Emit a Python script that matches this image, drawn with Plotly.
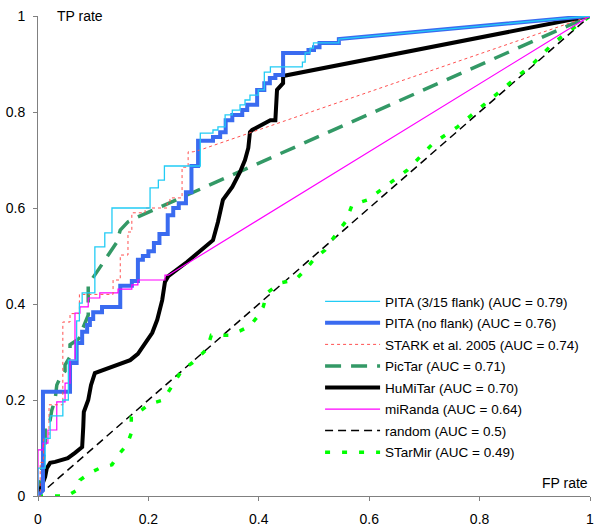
import plotly.graph_objects as go

# ---------------- data ----------------
pita_flank_fpr = [0, 0, 0.013, 0.013, 0.022, 0.022, 0.045, 0.045, 0.055, 0.055, 0.07, 0.07, 0.075, 0.075,
                  0.08, 0.08, 0.103, 0.103, 0.121, 0.121, 0.134, 0.134, 0.203, 0.203, 0.218, 0.218, 0.229, 0.229,
                  0.294, 0.294, 0.317, 0.317, 0.326, 0.326, 0.339, 0.339, 0.352, 0.352, 0.366, 0.366, 0.375, 0.375,
                  0.384, 0.384, 0.399, 0.399, 0.41, 0.41, 0.421, 0.421, 0.479, 0.479, 0.484, 0.484, 0.493, 0.493,
                  0.499, 0.499, 0.545, 0.545, 1]
pita_flank_tpr = [0, 0.058, 0.058, 0.12, 0.12, 0.167, 0.167, 0.2, 0.2, 0.283, 0.283, 0.365, 0.365, 0.402,
                  0.402, 0.423, 0.423, 0.519, 0.519, 0.548, 0.548, 0.6, 0.6, 0.642, 0.642, 0.658, 0.658, 0.6875,
                  0.6875, 0.756, 0.756, 0.7625, 0.7625, 0.769, 0.769, 0.794, 0.794, 0.804, 0.804, 0.815, 0.815, 0.825,
                  0.825, 0.835, 0.835, 0.846, 0.846, 0.883, 0.883, 0.894, 0.894, 0.904, 0.904, 0.923, 0.923, 0.933,
                  0.933, 0.944, 0.944, 0.952, 1]

pita_noflank_fpr = [0, 0.009, 0.009, 0.058, 0.058, 0.07, 0.07, 0.08, 0.08, 0.089, 0.089, 0.094, 0.094, 0.1, 0.1,
                    0.116, 0.116, 0.149, 0.149, 0.17, 0.17, 0.181, 0.181, 0.19, 0.19, 0.2, 0.2, 0.21, 0.21, 0.22,
                    0.22, 0.235, 0.235, 0.245, 0.245, 0.255, 0.255, 0.268, 0.268, 0.278, 0.278, 0.29, 0.29, 0.317,
                    0.317, 0.33, 0.33, 0.34, 0.34, 0.352, 0.352, 0.37, 0.37, 0.379, 0.379, 0.397, 0.397, 0.41, 0.41,
                    0.42, 0.42, 0.43, 0.43, 0.444, 0.444, 0.49, 0.49, 0.5, 0.5, 0.51, 0.51, 0.545, 0.545, 1]
pita_noflank_tpr = [0, 0.012, 0.217, 0.217, 0.277, 0.277, 0.319, 0.319, 0.342, 0.342, 0.356, 0.356, 0.369, 0.369,
                    0.383, 0.383, 0.394, 0.394, 0.438, 0.438, 0.448, 0.448, 0.492, 0.492, 0.5, 0.5, 0.51, 0.51,
                    0.527, 0.527, 0.546, 0.546, 0.585, 0.585, 0.6, 0.6, 0.61, 0.61, 0.633, 0.633, 0.6875, 0.6875,
                    0.74, 0.74, 0.748, 0.748, 0.758, 0.758, 0.783, 0.783, 0.794, 0.794, 0.804, 0.804, 0.815, 0.815,
                    0.846, 0.846, 0.86, 0.86, 0.871, 0.871, 0.877, 0.877, 0.923, 0.923, 0.929, 0.929, 0.935, 0.935,
                    0.944, 0.944, 0.952, 1]

stark_fpr = [0, 0.004, 0.004, 0.01, 0.01, 0.02, 0.02, 0.045, 0.045, 0.058, 0.058, 0.075, 0.075, 0.136, 0.136,
             0.149, 0.149, 0.163, 0.163, 0.17, 0.17, 0.194, 0.194, 0.234, 0.234, 0.239, 0.239, 0.261, 0.261,
             0.272, 0.272, 0.281, 0.294, 1]
stark_tpr = [0, 0, 0.07, 0.07, 0.12, 0.12, 0.19, 0.19, 0.3625, 0.3625, 0.38, 0.38, 0.42, 0.42, 0.45,
             0.45, 0.502, 0.502, 0.55, 0.55, 0.59, 0.59, 0.6, 0.6, 0.61, 0.61, 0.621, 0.621, 0.685,
             0.685, 0.717, 0.717, 0.721, 1]

pictar_fpr = [0, 0.007, 0.013, 0.013, 0.022, 0.025, 0.031, 0.034, 0.04, 0.049, 0.049, 0.058, 0.058, 0.071,
              0.076, 0.08, 0.091, 0.091, 0.103, 0.112, 0.125, 0.134, 0.143, 0.149, 0.163, 0.18, 1]
pictar_tpr = [0, 0.054, 0.102, 0.152, 0.158, 0.179, 0.2, 0.231, 0.246, 0.26, 0.273, 0.29, 0.315, 0.325,
              0.33, 0.346, 0.377, 0.44, 0.46, 0.475, 0.496, 0.5125, 0.529, 0.554, 0.571, 0.581, 1]

humitar_fpr = [0, 0.004, 0.007, 0.013, 0.016, 0.022, 0.031, 0.054, 0.067, 0.08, 0.082, 0.083, 0.091, 0.096,
               0.103, 0.112, 0.136, 0.167, 0.181, 0.194, 0.207, 0.216, 0.225, 0.23, 0.236, 0.27, 0.317, 0.326,
               0.335, 0.352, 0.366, 0.375, 0.381, 0.384, 0.388, 0.421, 0.43, 0.433, 0.444, 0.444, 1]
humitar_tpr = [0, 0.0125, 0.027, 0.04, 0.058, 0.069, 0.071, 0.079, 0.09, 0.102, 0.144, 0.175, 0.2, 0.231,
               0.256, 0.26, 0.271, 0.283, 0.296, 0.319, 0.34, 0.367, 0.408, 0.446, 0.458, 0.4875, 0.533, 0.571,
               0.617, 0.644, 0.675, 0.7, 0.725, 0.758, 0.7625, 0.783, 0.783, 0.846, 0.86, 0.875, 1]

miranda_fpr = [0, 0, 0.009, 0.009, 0.018, 0.018, 0.034, 0.034, 0.049, 0.049, 0.058, 0.058, 0.067, 0.067,
               0.076, 0.076, 0.091, 0.091, 0.112, 0.112, 0.145, 0.145, 0.17, 0.17, 0.181, 0.181, 0.23, 0.23,
               0.236, 1]
miranda_tpr = [0, 0.096, 0.096, 0.11, 0.11, 0.1375, 0.1375, 0.196, 0.196, 0.235, 0.235, 0.283, 0.283, 0.381,
               0.381, 0.394, 0.394, 0.4125, 0.4125, 0.423, 0.423, 0.431, 0.431, 0.44, 0.44, 0.45, 0.45, 0.46,
               0.46, 1]

random_fpr = [0, 1]
random_tpr = [0, 1]

starmir_fpr = [0, 0.053, 0.058, 0.071, 0.076, 0.094, 0.112, 0.134, 0.145, 0.161, 0.169, 0.169, 0.185, 0.203,
               0.227, 0.239, 0.25, 0.261, 0.279, 0.294, 0.306, 0.314, 0.345, 0.366, 0.384, 0.397, 0.408, 0.415,
               0.439, 0.466, 0.484, 0.502, 0.52, 0.539, 0.557, 0.569, 0.597, 0.669, 0.716, 0.76, 0.807, 0.85,
               0.898, 0.934, 0.983, 1]
starmir_tpr = [0, 0, 0.004, 0.0125, 0.033, 0.048, 0.058, 0.065, 0.085, 0.106, 0.131, 0.165, 0.177, 0.192,
               0.2, 0.221, 0.24, 0.2625, 0.277, 0.292, 0.306, 0.335, 0.335, 0.344, 0.354, 0.373, 0.394, 0.423,
               0.444, 0.45, 0.471, 0.496, 0.5125, 0.544, 0.571, 0.606, 0.617, 0.679, 0.735, 0.769, 0.815, 0.856,
               0.902, 0.944, 0.985, 1]

tick_vals = [0, 0.2, 0.4, 0.6, 0.8, 1]
tick_text = ["0", "0.2", "0.4", "0.6", "0.8", "1"]

series = [
    # (name, x, y, color, width, dash, legend rank)
    ("random (AUC = 0.5)", random_fpr, random_tpr, "#000000", 1.5, "8px,5px", 7),
    ("STarMir (AUC = 0.49)", starmir_fpr, starmir_tpr, "#00FF00", 3.5, "5px,12px", 8),
    ("PicTar (AUC = 0.71)", pictar_fpr, pictar_tpr, "#339966", 3.5, "16px,10px", 4),
    ("HuMiTar (AUC = 0.70)", humitar_fpr, humitar_tpr, "#000000", 4, "solid", 5),
    ("PITA (no flank) (AUC = 0.76)", pita_noflank_fpr, pita_noflank_tpr, "#3A6BF0", 4, "solid", 2),
    ("miRanda (AUC = 0.64)", miranda_fpr, miranda_tpr, "#FF00FF", 1.2, "solid", 6),
    ("STARK et al. 2005 (AUC = 0.74)", stark_fpr, stark_tpr, "#FF5050", 1, "dot", 3),
    ("PITA (3/15 flank) (AUC = 0.79)", pita_flank_fpr, pita_flank_tpr, "#22CCF5", 1.3, "solid", 1),
]

FONT = "Liberation Sans, Arial, sans-serif"
FS = 14

fig = go.Figure()
for name, xs, ys, color, width, dash, rank in series:
    if len(xs) != len(ys):
        raise ValueError(name)
    fig.add_trace(go.Scatter(
        x=xs, y=ys, mode="lines", name=name, legendrank=rank, legendgroup=name,
        line=dict(color=color, width=width, dash=dash),
        hoverinfo="skip",
    ))

axis_common = dict(
    range=[0, 1], tickvals=tick_vals, ticktext=tick_text,
    showgrid=False, zeroline=False, showline=True,
    linecolor="#808080", linewidth=1,
    ticks="outside", ticklen=4, tickcolor="#808080", tickwidth=1,
    tickfont=dict(family=FONT, size=FS, color="#000000"),
    fixedrange=True, automargin=False,
)
fig.update_xaxes(**axis_common, ticklabelstandoff=6)
fig.update_yaxes(**axis_common, ticklabelstandoff=5)

fig.add_annotation(x=0.031, y=1, xref="x", yref="y", text="TP rate", showarrow=False,
                   xanchor="left", yanchor="middle", font=dict(family=FONT, size=FS, color="#000000"))
fig.add_annotation(x=1, y=0.027, xref="x", yref="y", text="FP rate", showarrow=False,
                   xanchor="right", yanchor="middle", font=dict(family=FONT, size=FS, color="#000000"))

fig.update_layout(
    width=600, height=531,
    margin=dict(l=38, r=10, t=16, b=35),
    plot_bgcolor="white", paper_bgcolor="white",
    showlegend=True,
    legend=dict(x=0.511, y=0.4375, xanchor="left", yanchor="top",
                bgcolor="rgba(0,0,0,0)", borderwidth=0,
                font=dict(family=FONT, size=13.5, color="#000000"),
                tracegroupgap=1, itemwidth=55),
)

fig.write_html(
    "out.html",
    config={"responsive": False, "displayModeBar": False},
    post_script="document.body.style.margin='0';document.body.style.overflow='hidden';",
)
